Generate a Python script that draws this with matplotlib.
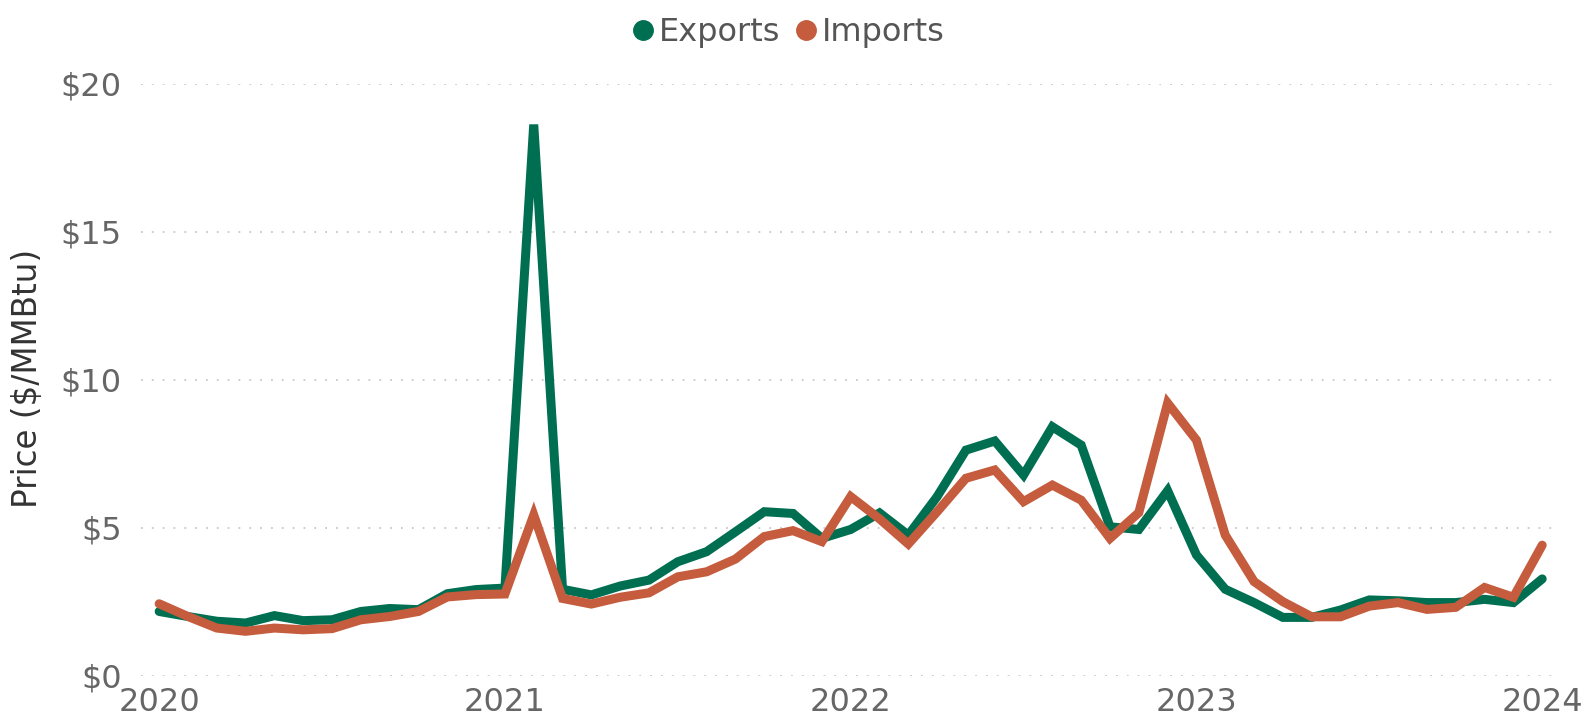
import numpy as np
import matplotlib
matplotlib.use("Agg")
import matplotlib.pyplot as plt
from matplotlib.lines import Line2D

# monthly, Jan 2020 .. Jan 2024
exports = [2.17, 2.00, 1.84, 1.78, 2.03, 1.86, 1.89, 2.17, 2.27, 2.23, 2.77, 2.91,
           2.96, 18.62, 2.92, 2.73, 3.03, 3.23, 3.85, 4.19, 4.86, 5.54, 5.48, 4.64,
           4.94, 5.50, 4.75, 6.05, 7.62, 7.93, 6.78, 8.41, 7.79, 5.03, 4.94, 6.25,
           4.08, 2.92, 2.47, 1.97, 1.97, 2.22, 2.56, 2.53, 2.47, 2.47, 2.58, 2.47,
           3.27]
imports = [2.43, 2.00, 1.61, 1.50, 1.61, 1.55, 1.59, 1.89, 2.00, 2.17, 2.66, 2.74,
           2.76, 5.43, 2.61, 2.42, 2.65, 2.80, 3.34, 3.51, 3.94, 4.70, 4.90, 4.53,
           6.05, 5.30, 4.45, 5.54, 6.67, 6.95, 5.88, 6.44, 5.93, 4.64, 5.51, 9.21,
           7.96, 4.75, 3.18, 2.50, 1.99, 1.99, 2.35, 2.47, 2.24, 2.31, 2.98, 2.65,
           4.41]
year_labels = ["2020", "2021", "2022", "2023", "2024"]
y_ticks = [0, 5, 10, 15, 20]

green = "#006f51"
orange = "#c45c3d"
grey = "#666666"

plt.rcParams['font.family'] = ['DejaVu Sans']

fig = plt.figure(figsize=(15.86, 7.17), dpi=100)
ax = fig.add_axes([141 / 1586, 1 - 675.7 / 717, (1552 - 141) / 1586, (675.7 - 83.7) / 717])

months = np.arange(len(exports))
ax.plot(months, exports, color=green, lw=6.5, solid_joinstyle='miter', solid_capstyle='round', zorder=3)
ax.plot(months, imports, color=orange, lw=6.5, solid_joinstyle='miter', solid_capstyle='round', zorder=4)

ax.set_xlim(-0.63, 48.34)
ax.set_ylim(0, 20)
ax.set_xticks(np.arange(0, 49, 12))
ax.set_xticklabels(year_labels)
ax.set_yticks(y_ticks)
ax.set_yticklabels(["$%d" % v for v in y_ticks])
ax.tick_params(axis='both', length=0, labelsize=23, labelcolor=grey)
ax.tick_params(axis='x', pad=8)
ax.tick_params(axis='y', pad=14)

ax.grid(axis='y', color='#c8c8c8', linestyle=(0, (1, 5)), lw=1.3)
ax.set_axisbelow(True)
for s in ax.spines.values():
    s.set_visible(False)

fig.text(27 / 1586, 1 - 378 / 717, "Price ($/MMBtu)", rotation=90, ha='center', va='center',
         fontsize=23.5, color='#333333')

handles = [Line2D([], [], ls='none', marker='o', ms=14, color=green),
           Line2D([], [], ls='none', marker='o', ms=14, color=orange)]
fig.legend(handles, ["Exports", "Imports"], loc='center', bbox_to_anchor=(789 / 1586, 1 - 33 / 717),
           ncol=2, frameon=False, fontsize=23, labelcolor='#555555', handlelength=0.6,
           handletextpad=0.2, columnspacing=0.5, borderpad=0)

plt.savefig("out.png", dpi=100)
plt.close(fig)
